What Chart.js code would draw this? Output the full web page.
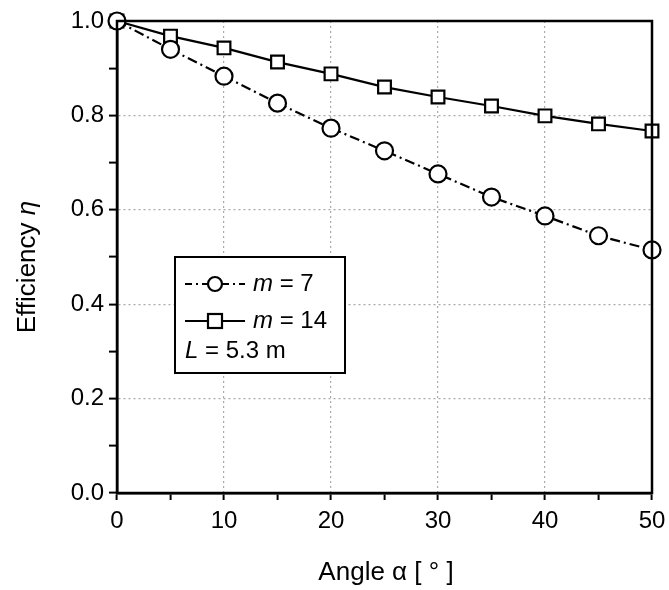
<!DOCTYPE html>
<html>
<head>
<meta charset="utf-8">
<script src="https://cdn.jsdelivr.net/npm/chart.js@4/dist/chart.umd.min.js"></script>
<style>
  html, body { margin: 0; padding: 0; background: #fff; }
  #wrap { width: 669px; height: 590px; }
</style>
</head>
<body>
<div id="wrap"><canvas id="effChart" width="669" height="590"></canvas></div>
<script>
// angle in degrees
const angles = [0, 5, 10, 15, 20, 25, 30, 35, 40, 45, 50];
// efficiency
const effM7  = [1.0, 0.94, 0.883, 0.826, 0.773, 0.725, 0.676, 0.627, 0.587, 0.545, 0.515];
const effM14 = [1.0, 0.968, 0.943, 0.913, 0.888, 0.860, 0.839, 0.820, 0.799, 0.782, 0.767];
const xTickLabels = ['0', '10', '20', '30', '40', '50'];
const yTickLabels = ['0.0', '0.2', '0.4', '0.6', '0.8', '1.0'];

const FONT = '"Liberation Sans", Arial, sans-serif';

// frame round the plot, inner legend box and axis titles
const framePlugin = {
    id: 'frame',
    afterDraw(chart) {
        const { ctx, chartArea: a } = chart;
        ctx.save();
        ctx.strokeStyle = '#000';
        ctx.lineWidth = 2.5;
        ctx.strokeRect(a.left, a.top, a.right - a.left, a.bottom - a.top);

        // legend box
        const bx = a.left + 58, by = a.top + 236, bw = 170, bh = 116;
        ctx.fillStyle = '#fff';
        ctx.fillRect(bx, by, bw, bh);
        ctx.lineWidth = 2;
        ctx.strokeRect(bx, by, bw, bh);

        const rows = [by + 27, by + 64, by + 94];
        const x0 = bx + 10, x1 = bx + 70, xm = (x0 + x1) / 2;
        ctx.strokeStyle = '#000';
        ctx.lineWidth = 2.2;

        // m = 7 sample
        ctx.setLineDash([7, 4, 2, 4]);
        ctx.beginPath(); ctx.moveTo(x0, rows[0]); ctx.lineTo(xm - 7, rows[0]);
        ctx.moveTo(xm + 7, rows[0]); ctx.lineTo(x1, rows[0]); ctx.stroke();
        ctx.setLineDash([]);
        ctx.beginPath(); ctx.arc(xm, rows[0], 7, 0, Math.PI * 2); ctx.fillStyle = '#fff'; ctx.fill(); ctx.stroke();

        // m = 14 sample
        ctx.beginPath(); ctx.moveTo(x0, rows[1]); ctx.lineTo(xm - 7, rows[1]);
        ctx.moveTo(xm + 7, rows[1]); ctx.lineTo(x1, rows[1]); ctx.stroke();
        ctx.strokeRect(xm - 7, rows[1] - 7, 14, 14);

        ctx.fillStyle = '#000';
        ctx.textBaseline = 'middle';
        const mixed = (parts, x, y, size) => {
            parts.forEach(([txt, italic]) => {
                ctx.font = (italic ? 'italic ' : '') + size + 'px ' + FONT;
                ctx.fillText(txt, x, y);
                x += ctx.measureText(txt).width;
            });
        };
        const widthOf = (parts, size) => parts.reduce((s, [txt, italic]) => {
            ctx.font = (italic ? 'italic ' : '') + size + 'px ' + FONT;
            return s + ctx.measureText(txt).width;
        }, 0);
        mixed([['m', true], [' = 7', false]], x1 + 8, rows[0], 24);
        mixed([['m', true], [' = 14', false]], x1 + 8, rows[1], 24);
        mixed([['L', true], [' = 5.3 m', false]], x0, rows[2], 24);

        // x axis title
        const xt = [['Angle ', false], ['α', false], [' [ ° ]', false]];
        mixed(xt, 386 - widthOf(xt, 26) / 2, 573, 26);

        // y axis title
        ctx.translate(28, 267);
        ctx.rotate(-Math.PI / 2);
        const yt = [['Efficiency ', false], ['η', true]];
        mixed(yt, -widthOf(yt, 26) / 2, 0, 26);
        ctx.restore();
    }
};

new Chart(document.getElementById('effChart'), {
    type: 'line',
    data: {
        labels: angles,
        datasets: [
            {
                label: 'm = 7',
                data: angles.map((a, i) => ({ x: a, y: effM7[i] })),
                borderColor: '#000',
                borderWidth: 2.2,
                borderDash: [10, 4, 2, 4],
                pointStyle: 'circle',
                pointRadius: 8.5,
                pointBorderWidth: 2.2,
                pointBackgroundColor: '#fff',
                pointBorderColor: '#000',
                clip: 10
            },
            {
                label: 'm = 14',
                data: angles.map((a, i) => ({ x: a, y: effM14[i] })),
                borderColor: '#000',
                borderWidth: 2.2,
                pointStyle: 'rect',
                pointRadius: 9,
                pointBorderWidth: 2.2,
                pointBackgroundColor: '#fff',
                pointBorderColor: '#000',
                clip: 10
            }
        ]
    },
    options: {
        responsive: false,
        animation: false,
        layout: { padding: { top: 21, right: 17, left: 0, bottom: 0 } },
        plugins: { legend: { display: false }, tooltip: { enabled: false } },
        scales: {
            x: {
                type: 'linear',
                min: 0, max: 50,
                afterFit: s => { s.height = 97; s.paddingLeft = 0; s.paddingRight = 0; },
                ticks: {
                    stepSize: 5,
                    autoSkip: false,
                    maxRotation: 0,
                    color: '#000',
                    font: { family: FONT, size: 24 },
                    padding: 7,
                    callback: v => (v % 10 === 0 ? xTickLabels[v / 10] : '')
                },
                grid: {
                    color: c => (c.tick && c.tick.value % 10 === 0 && c.tick.value > 0 && c.tick.value < 50) ? '#aaa' : 'transparent',
                    tickColor: '#000',
                    tickLength: 7,
                    lineWidth: 1.2,
                    tickWidth: 2
                },
                border: { color: '#000', width: 2.5, dash: [2, 3] }
            },
            y: {
                min: 0, max: 1.0,
                afterFit: s => { s.width = 117; s.paddingTop = 0; s.paddingBottom = 0; },
                ticks: {
                    stepSize: 0.1,
                    autoSkip: false,
                    color: '#000',
                    font: { family: FONT, size: 24 },
                    padding: 5,
                    callback: v => {
                        const k = Math.round(v * 10);
                        return k % 2 === 0 ? yTickLabels[k / 2] : '';
                    }
                },
                grid: {
                    color: c => {
                        const k = c.tick ? Math.round(c.tick.value * 10) : 1;
                        return (k % 2 === 0 && k > 0 && k < 10) ? '#aaa' : 'transparent';
                    },
                    tickColor: '#000',
                    tickLength: 8,
                    lineWidth: 1.2,
                    tickWidth: 2
                },
                border: { color: '#000', width: 2.5, dash: [2, 3] }
            }
        }
    },
    plugins: [framePlugin]
});
</script>
</body>
</html>
